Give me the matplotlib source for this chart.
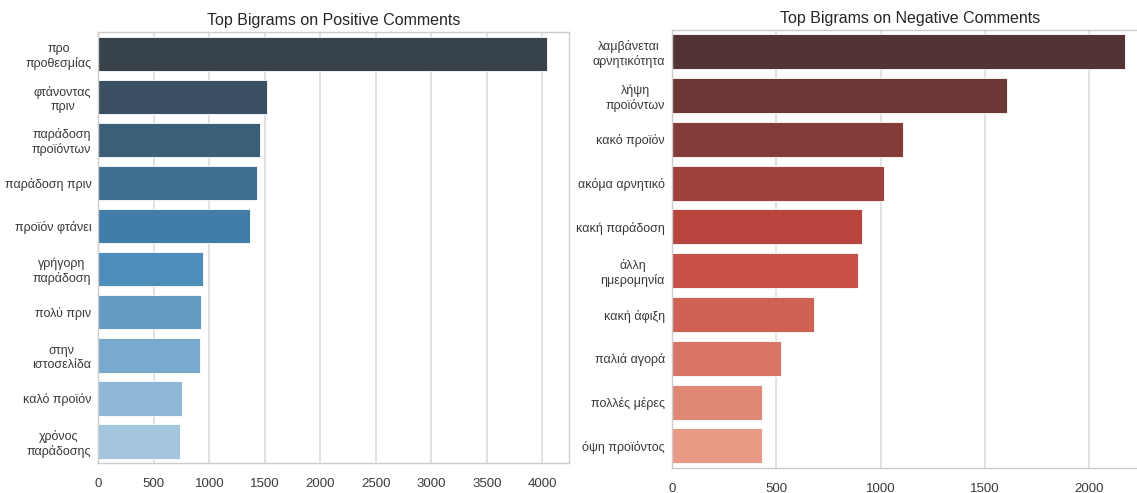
import matplotlib
matplotlib.use("Agg")
import matplotlib.pyplot as plt
import seaborn as sns

# Bigram counts for positive comments
pos_bigrams = [
    "προ\nπροθεσμίας", "φτάνοντας\nπριν", "παράδοση\nπροϊόντων", "παράδοση πριν",
    "προϊόν φτάνει", "γρήγορη\nπαράδοση", "πολύ πριν", "στην\nιστοσελίδα",
    "καλό προϊόν", "χρόνος\nπαράδοσης",
]
pos_counts = [4038, 1520, 1455, 1430, 1365, 940, 927, 918, 754, 734]

# Bigram counts for negative comments
neg_bigrams = [
    "λαμβάνεται\nαρνητικότητα", "λήψη\nπροϊόντων", "κακό προϊόν", "ακόμα αρνητικό",
    "κακή παράδοση", "άλλη\nημερομηνία", "κακή άφιξη", "παλιά αγορά",
    "πολλές μέρες", "όψη προϊόντος",
]
neg_counts = [2173, 1604, 1107, 1015, 912, 892, 680, 524, 430, 430]

pos_palette = sns.blend_palette(["#37424b", "#4384b4", "#a3c6de"], len(pos_counts))
neg_palette = sns.blend_palette(["#533434", "#c4463e", "#e89a84"], len(neg_counts))

plt.rcParams["font.family"] = ["Liberation Sans", "DejaVu Sans"]

W, H = 1137, 493
fig = plt.figure(figsize=(W / 100, H / 100), dpi=100)
ax1 = fig.add_axes([98.3 / W, 1 - 463 / H, 470.7 / W, 430.7 / H])
ax2 = fig.add_axes([672 / W, 1 - 467.7 / H, 476 / W, 437.7 / H])


def draw(ax, labels, counts, colors, title):
    pos = list(range(len(counts)))
    ax.barh(pos, counts, height=0.8, color=colors, edgecolor="white",
            linewidth=0.6, zorder=2)
    ax.set_ylim(len(counts) - 0.5, -0.5)
    ax.set_yticks(pos)
    ax.set_yticklabels(labels, fontsize=9, color="#3a3a3a", multialignment="center")
    ax.tick_params(axis="y", length=0, pad=5)
    ax.tick_params(axis="x", length=0, pad=11, labelsize=9.5, labelcolor="#3a3a3a")
    ax.grid(axis="x", color="#dddddd", linewidth=1.2, zorder=0)
    ax.grid(axis="y", visible=False)
    ax.set_axisbelow(True)
    for s in ax.spines.values():
        s.set_color("#cccccc")
        s.set_linewidth(1.0)
    ax.set_title(title, fontsize=11.5, color="#262626", pad=5)


draw(ax1, pos_bigrams, pos_counts, pos_palette, "Top Bigrams on Positive Comments")
draw(ax2, neg_bigrams, neg_counts, neg_palette, "Top Bigrams on Negative Comments")
ax1.set_xticks(range(0, 4001, 500))
ax2.set_xticks(range(0, 2001, 500))

fig.savefig("out.png", dpi=100, facecolor="white")
